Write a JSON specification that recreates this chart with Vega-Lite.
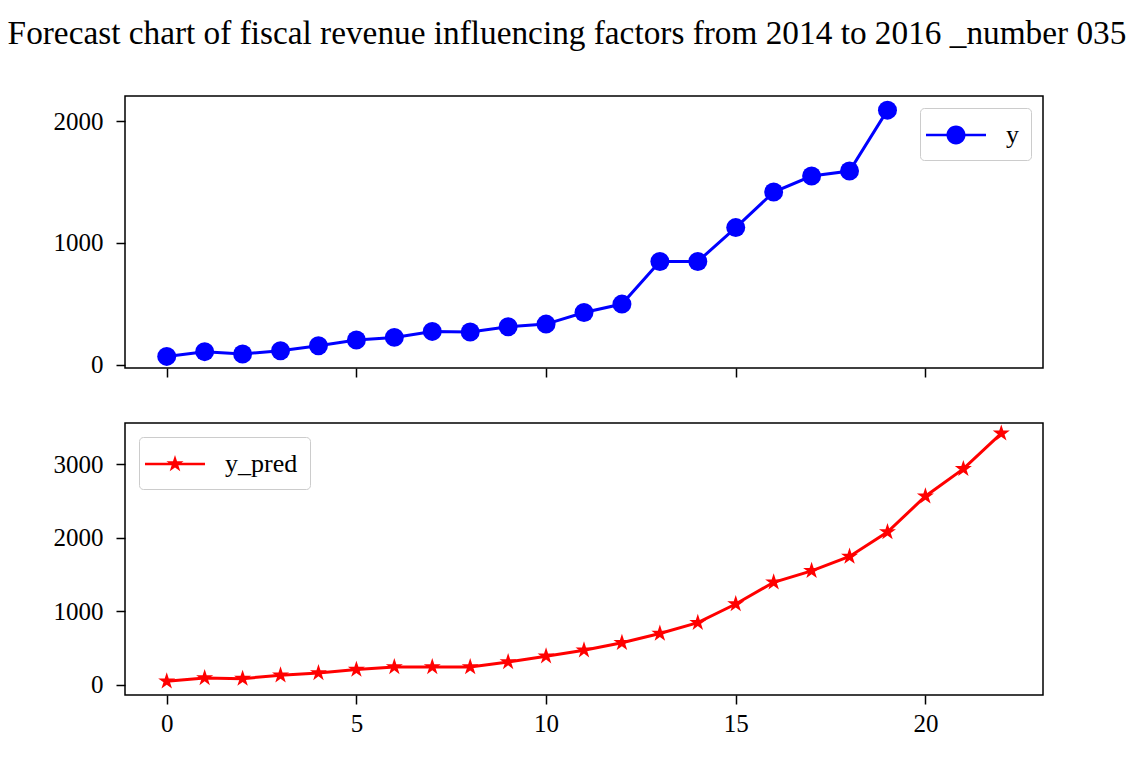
{
  "$schema": "https://vega.github.io/schema/vega-lite/v6.json",
  "background": "white",
  "padding": {"left": 3, "top": 16, "right": 5, "bottom": 10},
  "title": {
    "text": "Forecast chart of fiscal revenue influencing factors from 2014 to 2016  _number 035",
    "font": "Liberation Serif",
    "fontSize": 33.3,
    "fontWeight": "normal",
    "color": "#000000",
    "anchor": "middle",
    "dx": 19,
    "offset": 44
  },
  "config": {
    "view": {"stroke": "#000000", "strokeWidth": 1.5},
    "axis": {
      "domain": false,
      "grid": false,
      "tickColor": "#000000",
      "tickSize": 9,
      "tickWidth": 1.5,
      "labelFont": "Liberation Serif",
      "labelFontSize": 25,
      "labelColor": "#000000",
      "title": null,
      "format": "d"
    },
    "axisX": {"labelPadding": 7},
    "axisY": {"labelPadding": 13, "minExtent": 72, "maxExtent": 72},
    "legend": {
      "padding": 12,
      "strokeColor": "#cccccc",
      "fillColor": "rgba(255,255,255,0.8)",
      "cornerRadius": 4,
      "labelFont": "Liberation Serif",
      "labelFontSize": 26,
      "labelColor": "#000000",
      "symbolSize": 900,
      "symbolStrokeWidth": 0,
      "labelOffset": 44,
      "title": null
    }
  },
  "spacing": 43,
  "resolve": {"scale": {"color": "independent"}, "legend": {"color": "independent"}},
  "vconcat": [
    {
      "width": 918,
      "height": 272,
      "data": {
        "values": [
          {"x": 0, "y": 70, "series": "y"},
          {"x": 1, "y": 109, "series": "y"},
          {"x": 2, "y": 90, "series": "y"},
          {"x": 3, "y": 117, "series": "y"},
          {"x": 4, "y": 158, "series": "y"},
          {"x": 5, "y": 204, "series": "y"},
          {"x": 6, "y": 226, "series": "y"},
          {"x": 7, "y": 275, "series": "y"},
          {"x": 8, "y": 270, "series": "y"},
          {"x": 9, "y": 313, "series": "y"},
          {"x": 10, "y": 335, "series": "y"},
          {"x": 11, "y": 430, "series": "y"},
          {"x": 12, "y": 499, "series": "y"},
          {"x": 13, "y": 848, "series": "y"},
          {"x": 14, "y": 848, "series": "y"},
          {"x": 15, "y": 1126, "series": "y"},
          {"x": 16, "y": 1418, "series": "y"},
          {"x": 17, "y": 1549, "series": "y"},
          {"x": 18, "y": 1590, "series": "y"},
          {"x": 19, "y": 2089, "series": "y"}
        ]
      },
      "encoding": {
        "x": {"field": "x", "type": "quantitative", "scale": {"domain": [-1.1, 23.1], "nice": false, "zero": false}, "axis": {"values": [0, 5, 10, 15, 20], "labels": false}},
        "y": {"field": "y", "type": "quantitative", "scale": {"domain": [-25, 2205], "nice": false, "zero": false}, "axis": {"values": [0, 1000, 2000]}}
      },
      "layer": [
        {"mark": {"type": "line", "color": "#0000ff", "strokeWidth": 3}},
        {
          "mark": {"type": "point", "filled": true, "opacity": 1, "size": 360, "shape": "circle"},
          "encoding": {
            "color": {
              "field": "series", "type": "nominal",
              "scale": {"domain": ["y"], "range": ["#0000ff"]},
              "legend": {
                "orient": "top-right", "offset": 12,
                "symbolType": "M-1.4,-0.09H2.6V0.09H-1.4Z M1.233,0A0.633,0.633,0,1,1,-0.033,0A0.633,0.633,0,1,1,1.233,0Z"
              }
            }
          }
        }
      ]
    },
    {
      "width": 918,
      "height": 272,
      "data": {
        "values": [
          {"x": 0, "y": 46, "series": "y_pred"},
          {"x": 1, "y": 92, "series": "y_pred"},
          {"x": 2, "y": 82, "series": "y_pred"},
          {"x": 3, "y": 128, "series": "y_pred"},
          {"x": 4, "y": 160, "series": "y_pred"},
          {"x": 5, "y": 205, "series": "y_pred"},
          {"x": 6, "y": 242, "series": "y_pred"},
          {"x": 7, "y": 242, "series": "y_pred"},
          {"x": 8, "y": 240, "series": "y_pred"},
          {"x": 9, "y": 310, "series": "y_pred"},
          {"x": 10, "y": 388, "series": "y_pred"},
          {"x": 11, "y": 470, "series": "y_pred"},
          {"x": 12, "y": 570, "series": "y_pred"},
          {"x": 13, "y": 697, "series": "y_pred"},
          {"x": 14, "y": 844, "series": "y_pred"},
          {"x": 15, "y": 1099, "series": "y_pred"},
          {"x": 16, "y": 1395, "series": "y_pred"},
          {"x": 17, "y": 1551, "series": "y_pred"},
          {"x": 18, "y": 1746, "series": "y_pred"},
          {"x": 19, "y": 2079, "series": "y_pred"},
          {"x": 20, "y": 2567, "series": "y_pred"},
          {"x": 21, "y": 2940, "series": "y_pred"},
          {"x": 22, "y": 3424, "series": "y_pred"}
        ]
      },
      "encoding": {
        "x": {"field": "x", "type": "quantitative", "scale": {"domain": [-1.1, 23.1], "nice": false, "zero": false}, "axis": {"values": [0, 5, 10, 15, 20]}},
        "y": {"field": "y", "type": "quantitative", "scale": {"domain": [-141, 3565], "nice": false, "zero": false}, "axis": {"values": [0, 1000, 2000, 3000]}}
      },
      "layer": [
        {"mark": {"type": "line", "color": "#ff0000", "strokeWidth": 3}},
        {
          "mark": {"type": "point", "filled": true, "opacity": 1, "size": 320, "shape": "M0,-1L0.225,-0.309L0.951,-0.309L0.363,0.118L0.588,0.809L0,0.382L-0.588,0.809L-0.363,0.118L-0.951,-0.309L-0.225,-0.309Z"},
          "encoding": {
            "color": {
              "field": "series", "type": "nominal",
              "scale": {"domain": ["y_pred"], "range": ["#ff0000"]},
              "legend": {
                "orient": "top-left", "offset": 14,
                "symbolType": "M-1.4,-0.09H2.6V0.09H-1.4Z M0.6,-0.6L0.735,-0.1854L1.1706,-0.1854L0.8178,0.0708L0.9528,0.4854L0.6,0.2292L0.2472,0.4854L0.3822,0.0708L0.0294,-0.1854L0.465,-0.1854Z"
              }
            }
          }
        }
      ]
    }
  ]
}
